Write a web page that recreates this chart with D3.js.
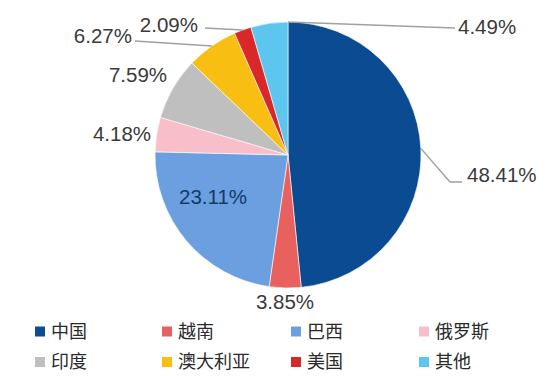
<!DOCTYPE html>
<html>
<head>
<meta charset="utf-8">
<script src="https://cdn.jsdelivr.net/npm/d3@7"></script>
<style>
  html, body { margin: 0; padding: 0; background: #fff; }
  svg { display: block; }
</style>
</head>
<body>
<div id="chart"></div>
<script>
// 各国占比（%）
const countries = ["中国", "越南", "巴西", "俄罗斯", "印度", "澳大利亚", "美国", "其他"];
const shares = [48.41, 3.85, 23.11, 4.18, 7.59, 6.27, 2.09, 4.49];
const colors = ["#0b4b92", "#e8615f", "#6b9fe0", "#f8bfca", "#bfbfbf", "#f9be12", "#d8282a", "#5cc6ee"];

const width = 551, height = 376;
const cx = 288, cy = 155, R = 133;

// label placement relative to pie centre (layout only)
const labelLayout = {
  "中国":   {dx: 179, dy: 20, anchor: "start", leader: "mid", elbow: [162, 27], end: [174, 27]},
  "越南":   {dx: -3, dy: 147, anchor: "middle"},
  "巴西":   {dx: -75, dy: 42, anchor: "middle", inside: true},
  "俄罗斯": {dx: -166, dy: -21, anchor: "middle"},
  "印度":   {dx: -150, dy: -80, anchor: "middle"},
  "澳大利亚": {dx: -156, dy: -119, anchor: "end", leader: "mid", end: [-153, -114]},
  "美国":   {dx: -90, dy: -130, anchor: "end", leader: "mid", end: [-83, -127]},
  "其他":   {dx: 170, dy: -128, anchor: "start", leader: "end", end: [167, -127]}
};

const data = countries.map((c, i) => ({name: c, value: shares[i], color: colors[i]}));

const svg = d3.select("#chart").append("svg")
  .attr("width", width).attr("height", height);

const g = svg.append("g").attr("transform", `translate(${cx},${cy})`);

const pie = d3.pie().sort(null).value(d => d.value);
const arc = d3.arc().innerRadius(0).outerRadius(R);
const arcs = pie(data);

g.selectAll("path.slice")
  .data(arcs)
  .join("path")
    .attr("class", "slice")
    .attr("d", arc)
    .attr("fill", d => d.data.color)
    .attr("stroke", "#fff")
    .attr("stroke-width", 0.6);

const onArc = a => [Math.sin(a) * R, -Math.cos(a) * R];

// leader lines
arcs.forEach(d => {
  const L = labelLayout[d.data.name];
  if (!L.leader) return;
  const a = L.leader === "end" ? d.endAngle : (d.startAngle + d.endAngle) / 2;
  const pts = [onArc(a)];
  if (L.elbow) pts.push(L.elbow);
  pts.push(L.end);
  g.append("path")
    .attr("d", d3.line()(pts))
    .attr("fill", "none")
    .attr("stroke", "#a0a0a0")
    .attr("stroke-width", 1.5);
});

// value labels
g.selectAll("text.val")
  .data(arcs)
  .join("text")
    .attr("class", "val")
    .attr("x", d => labelLayout[d.data.name].dx)
    .attr("y", d => labelLayout[d.data.name].dy)
    .attr("dy", "0.36em")
    .attr("text-anchor", d => labelLayout[d.data.name].anchor)
    .attr("font-family", "'Liberation Sans', Arial, sans-serif")
    .attr("font-size", 20.5)
    .attr("fill", d => labelLayout[d.data.name].inside ? "#123a6b" : "#3a3a3a")
    .text(d => d.data.value.toFixed(2) + "%");

// legend
const colX = [35, 162, 291, 419];
const rowY = [331.5, 362];
const legend = svg.append("g");
const item = legend.selectAll("g.item")
  .data(data)
  .join("g")
    .attr("class", "item")
    .attr("transform", (d, i) => `translate(${colX[i % 4]},${rowY[Math.floor(i / 4)]})`);

item.append("rect")
  .attr("x", 0).attr("y", -5)
  .attr("width", 10).attr("height", 10)
  .attr("fill", d => d.color);

item.append("text")
  .attr("x", 16)
  .attr("dy", "0.36em")
  .attr("font-family", "'Noto Sans CJK SC', sans-serif")
  .attr("font-size", 18)
  .attr("fill", "#2a2a2a")
  .text(d => d.name);
</script>
</body>
</html>
